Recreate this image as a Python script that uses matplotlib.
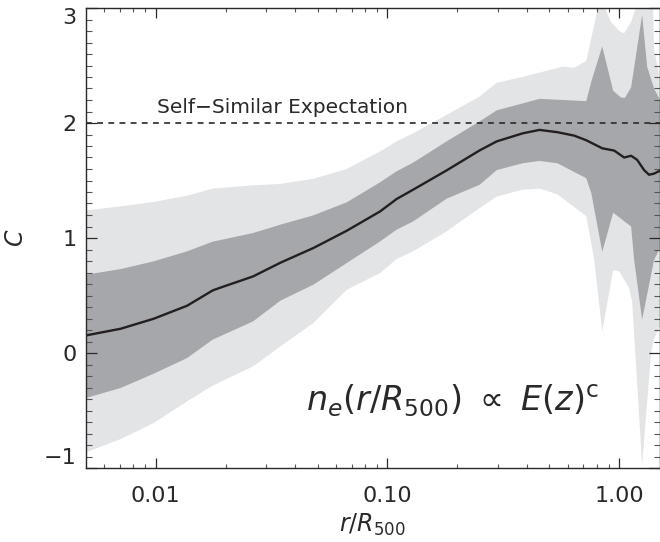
import matplotlib
matplotlib.use('Agg')
import matplotlib.pyplot as plt
from matplotlib.ticker import FixedLocator, NullFormatter, MultipleLocator

plt.rcParams['font.family'] = ['DejaVu Sans']
plt.rcParams['mathtext.fontset'] = 'dejavusans'

ink = '#2b2829'

# median line
r_line = [0.005, 0.00706, 0.0098, 0.01365, 0.0176, 0.0188, 0.0263, 0.0345, 0.0479, 0.0667, 0.0929, 0.1095, 0.129,
          0.18, 0.25, 0.296, 0.383, 0.453, 0.541, 0.64, 0.721, 0.845, 0.952, 1.05, 1.126, 1.195, 1.281, 1.346,
          1.414, 1.5]
c_line = [0.153, 0.211, 0.298, 0.411, 0.544, 0.565, 0.666, 0.785, 0.913, 1.063, 1.231, 1.339, 1.42, 1.588, 1.762,
          1.84, 1.91, 1.94, 1.92, 1.89, 1.85, 1.78, 1.76, 1.70, 1.715, 1.68, 1.59, 1.55, 1.56, 1.585]

# inner band
r_in_hi = [0.005, 0.00706, 0.0098, 0.01365, 0.0176, 0.0263, 0.0345, 0.0479, 0.0667, 0.0929, 0.1095, 0.129, 0.18,
           0.25, 0.296, 0.383, 0.453, 0.721, 0.758, 0.845, 0.942, 1.02, 1.06, 1.126, 1.256, 1.32, 1.414, 1.5]
c_in_hi = [0.681, 0.73, 0.797, 0.884, 0.968, 1.043, 1.116, 1.197, 1.31, 1.484, 1.58, 1.655, 1.84,
           2.014, 2.11, 2.17, 2.21, 2.19, 2.36, 2.666, 2.28, 2.22, 2.22, 2.31, 2.94, 2.49, 2.30, 2.20]
r_in_lo = [0.005, 0.00706, 0.0098, 0.01365, 0.0176, 0.0263, 0.0345, 0.0479, 0.0667, 0.0929, 0.1095, 0.129, 0.18,
           0.25, 0.296, 0.383, 0.453, 0.541, 0.721, 0.758, 0.845, 0.942, 1.126, 1.16, 1.256, 1.414, 1.5]
c_in_lo = [-0.391, -0.304, -0.18, -0.044, 0.116, 0.275, 0.455, 0.594, 0.782, 0.97, 1.072, 1.144, 1.342,
           1.463, 1.59, 1.65, 1.67, 1.65, 1.52, 1.39, 0.88, 1.22, 1.10, 0.81, 0.29, 0.81, 0.91]

# outer band
r_out_hi = [0.005, 0.00706, 0.0098, 0.01365, 0.0176, 0.0263, 0.0345, 0.0479, 0.0667, 0.0929, 0.1095, 0.129, 0.18,
            0.25, 0.296, 0.383, 0.57, 0.64, 0.721, 0.82, 0.85, 0.92, 1.0, 1.05, 1.126, 1.2, 1.38, 1.40, 1.414, 1.5]
c_out_hi = [1.24, 1.275, 1.313, 1.368, 1.429, 1.458, 1.47, 1.515, 1.60, 1.753, 1.84, 1.91, 2.07,
            2.23, 2.35, 2.40, 2.49, 2.48, 2.54, 3.05, 3.05, 2.88, 2.80, 2.78, 2.88, 3.05, 3.05, 3.0, 2.64, 2.38]
r_out_lo = [0.005, 0.00706, 0.0098, 0.01365, 0.0176, 0.0263, 0.0345, 0.0479, 0.0667, 0.0929, 0.1095, 0.129, 0.18,
            0.25, 0.296, 0.383, 0.453, 0.541, 0.721, 0.78, 0.845, 0.942, 1.0, 1.10, 1.137, 1.256, 1.373, 1.414, 1.5]
c_out_lo = [-0.864, -0.748, -0.609, -0.42, -0.284, -0.116, 0.057, 0.261, 0.55, 0.695, 0.817, 0.884, 1.058,
            1.261, 1.36, 1.42, 1.43, 1.38, 1.19, 0.81, 0.19, 0.72, 0.71, 0.57, 0.45, -0.97, 0.0, 0.12, 0.23]

y_labels = ['\u22121', '0', '1', '2', '3']
x_labels = ['0.01', '0.10', '1.00']

fig = plt.figure(figsize=(6.6, 5.42), dpi=100)
ax = fig.add_axes([86 / 660, 1 - 468 / 542, 574 / 660, 460 / 542])

ax.fill(r_out_hi + r_out_lo[::-1], c_out_hi + c_out_lo[::-1], color='#e3e4e6', lw=0)
ax.fill(r_in_hi + r_in_lo[::-1], c_in_hi + c_in_lo[::-1], color='#a6a7aa', lw=0)
ax.plot(r_line, c_line, color='#231f20', lw=1.7)
ax.axhline(2.0, color=ink, lw=1.2, dashes=(3.5, 3.2))

ax.set_xscale('log')
ax.set_xlim(0.005, 1.5)
ax.set_ylim(-1, 3)
ax.xaxis.set_major_locator(FixedLocator([0.01, 0.1, 1.0]))
ax.set_xticklabels(x_labels)
ax.xaxis.set_minor_locator(FixedLocator([0.006, 0.007, 0.008, 0.009, 0.02, 0.03, 0.04, 0.05, 0.06, 0.07, 0.08,
                                         0.09, 0.2, 0.3, 0.4, 0.5, 0.6, 0.7, 0.8, 0.9]))
ax.xaxis.set_minor_formatter(NullFormatter())
ax.yaxis.set_minor_locator(MultipleLocator(0.1))
ax.set_yticks([-1, 0, 1, 2, 3])
ax.set_yticklabels(y_labels)

ax.tick_params(axis='x', which='major', direction='in', length=7, width=0.9, color=ink, labelcolor=ink,
               labelsize=16, top=True, pad=13)
ax.tick_params(axis='y', which='major', direction='in', length=8, width=0.9, color=ink, labelcolor=ink,
               labelsize=16, right=True, pad=7)
ax.tick_params(axis='x', which='minor', direction='in', length=3, width=0.8, color='#555555', top=True)
ax.tick_params(axis='y', which='minor', direction='in', length=4, width=0.8, color='#555555', right=True)

labels = ax.get_yticklabels()
labels[0].set_va('bottom')
labels[-1].set_va('top')

for s in ax.spines.values():
    s.set_linewidth(1.0)
    s.set_color(ink)

ax.set_xlabel('$r/R_{500}$', fontsize=17, color=ink)
ax.xaxis.set_label_coords(0.499, -0.095)
ax.set_ylabel('$C$', fontsize=17, color=ink, va='center')
ax.yaxis.set_label_coords(-0.122, 0.5)

ax.text(0.0101, 2.09, 'Self\u2212Similar Expectation', fontsize=14.5, color=ink, va='baseline')
ax.text(0.0444, -0.51, r'$n_e(r/R_{500})\ \propto\ E(z)^{\mathrm{c}}$', fontsize=24, color=ink, va='baseline')

fig.savefig('out.png', dpi=100)
